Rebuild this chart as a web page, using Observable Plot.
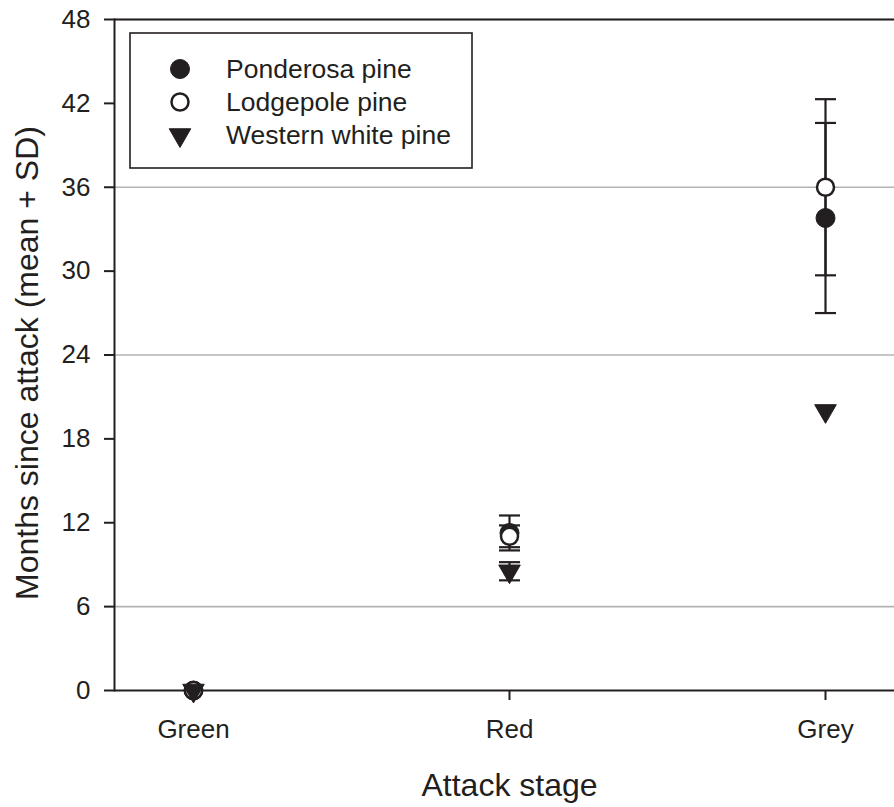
<!DOCTYPE html>
<html>
<head>
<meta charset="utf-8">
<script src="https://cdn.jsdelivr.net/npm/d3@7"></script>
<script src="https://cdn.jsdelivr.net/npm/@observablehq/plot@0.6"></script>
<style>
  html, body { margin: 0; padding: 0; background: #fff; }
</style>
</head>
<body>
<div id="chart"></div>
<script>
// ---- data ----
const stages = ["Green", "Red", "Grey"];
const species = ["Ponderosa pine", "Lodgepole pine", "Western white pine"];
const ponderosaMean = [0, 11.27, 33.8];
const ponderosaSD   = [0, 1.25, 6.8];
const lodgepoleMean = [0, 11.03, 36.0];
const lodgepoleSD   = [0, 0.78, 6.3];
const whiteMean     = [0, 8.53, 20.0];
const whiteSD       = [0, 0.65, 0];
const yTicks = [0, 6, 12, 18, 24, 30, 36, 42, 48];
const gridValues = [6, 24, 36, 48];
const xTitle = "Attack stage";
const yTitle = "Months since attack (mean + SD)";

const ink = "#231f20";
const font = "'Liberation Sans', Arial, Helvetica, sans-serif";
const style = {
  "Ponderosa pine": {symbol: "circle", fill: ink, stroke: ink, r: 9.5, rotate: 0, sw: 1},
  "Lodgepole pine": {symbol: "circle", fill: "white", stroke: ink, r: 8.5, rotate: 0, sw: 2.5},
  "Western white pine": {symbol: "triangle", fill: ink, stroke: ink, r: 8, rotate: 180, sw: 1}
};
// horizontal cap symbol for error bars (half-width = r)
const capSymbol = {
  draw(ctx, size) {
    const w = Math.sqrt(size / Math.PI);
    ctx.moveTo(-w, 0);
    ctx.lineTo(w, 0);
  }
};

const means = [ponderosaMean, lodgepoleMean, whiteMean];
const sds = [ponderosaSD, lodgepoleSD, whiteSD];
const rows = [];
species.forEach((sp, si) => {
  stages.forEach((st, i) => {
    rows.push({species: sp, stage: st, mean: means[si][i], sd: sds[si][i]});
  });
});
const errRows = rows.filter(d => d.sd > 0);

const marks = [
  Plot.ruleY(gridValues, {stroke: "#b3b3b3", strokeWidth: 1.6}),
  Plot.ruleY([48], {stroke: ink, strokeWidth: 2}),
  Plot.ruleY([0], {stroke: ink, strokeWidth: 2}),
  Plot.frame({anchor: "left", stroke: ink, strokeWidth: 2}),
  Plot.axisY({ticks: yTicks, tickSize: 10, tickPadding: 14, fontSize: 26, label: null, strokeWidth: 2, stroke: ink, fill: ink}),
  Plot.axisX({tickSize: 10, tickPadding: 19, fontSize: 26, label: null, strokeWidth: 2, stroke: ink, fill: ink}),
  Plot.text([xTitle], {frameAnchor: "bottom", dx: 5, dy: 95, lineAnchor: "middle", textAnchor: "middle", fontSize: 32, fill: ink, text: d => d}),
  Plot.text([yTitle], {frameAnchor: "left", dx: -87, dy: 8, rotate: -90, lineAnchor: "middle", textAnchor: "middle", fontSize: 32, fill: ink, text: d => d})
];

species.forEach(sp => {
  const er = errRows.filter(d => d.species === sp);
  marks.push(
    Plot.ruleX(er, {x: "stage", y1: d => d.mean - d.sd, y2: d => d.mean + d.sd, stroke: ink, strokeWidth: 2.2}),
    Plot.dot(er, {x: "stage", y: d => d.mean + d.sd, symbol: capSymbol, r: 10.5, fill: "none", stroke: ink, strokeWidth: 2.2}),
    Plot.dot(er, {x: "stage", y: d => d.mean - d.sd, symbol: capSymbol, r: 10.5, fill: "none", stroke: ink, strokeWidth: 2.2})
  );
});
species.forEach(sp => {
  const s = style[sp];
  marks.push(Plot.dot(rows.filter(d => d.species === sp), {
    x: "stage", y: "mean", symbol: s.symbol, r: s.r, fill: s.fill, stroke: s.stroke,
    strokeWidth: s.sw, rotate: s.rotate
  }));
});

const chart = Plot.plot({
  width: 894,
  height: 807,
  marginTop: 19,
  marginBottom: 117,
  marginLeft: 114,
  marginRight: 0,
  style: {fontFamily: font, color: ink, background: "white"},
  x: {type: "point", domain: stages, range: [114, 904], padding: 0.25},
  y: {domain: [0, 48], range: [690, 19]},
  marks
});

// legend (box drawn inside the plot area)
const svg = d3.select(chart);
const lg = svg.append("g").attr("font-family", font).attr("text-anchor", "start");
lg.append("rect").attr("x", 130).attr("y", 33).attr("width", 342).attr("height", 135)
  .attr("fill", "white").attr("stroke", ink).attr("stroke-width", 1.6);
species.forEach((sp, i) => {
  const s = style[sp];
  const cy = 69 + i * 33;
  const sym = s.symbol === "circle" ? d3.symbolCircle : d3.symbolTriangle;
  lg.append("path")
    .attr("d", d3.symbol(sym, Math.PI * s.r * s.r)())
    .attr("transform", `translate(180,${cy}) rotate(${s.rotate})`)
    .attr("fill", s.fill).attr("stroke", s.stroke).attr("stroke-width", s.sw);
  lg.append("text").attr("x", 226).attr("y", cy).attr("dy", "0.35em")
    .attr("text-anchor", "start")
    .attr("font-size", 26.5).attr("fill", ink).text(sp);
});

document.getElementById("chart").appendChild(chart);
</script>
</body>
</html>
